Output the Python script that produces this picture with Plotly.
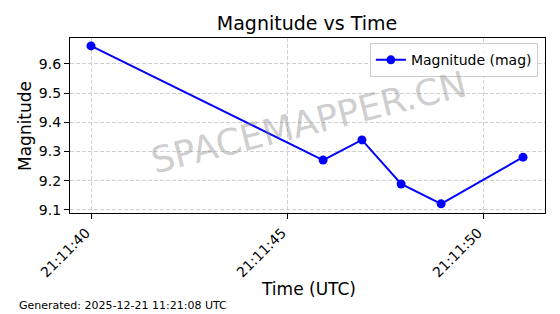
import plotly.graph_objects as go

times = ["2025-12-21 21:11:40.000", "2025-12-21 21:11:45.920", "2025-12-21 21:11:46.910",
         "2025-12-21 21:11:47.910", "2025-12-21 21:11:48.930", "2025-12-21 21:11:51.020"]
magnitudes = [9.662, 9.271, 9.340, 9.189, 9.121, 9.281]
x_ticks = ["2025-12-21 21:11:40", "2025-12-21 21:11:45", "2025-12-21 21:11:50"]
x_tick_labels = ["21:11:40", "21:11:45", "21:11:50"]
y_ticks = [9.1, 9.2, 9.3, 9.4, 9.5, 9.6]

FONT = "DejaVu Sans"
W, H = 560, 314
L, R, T, B = 70, 15, 38, 101
PW, PH = W - L - R, H - T - B


def px(xp):
    return (xp - L) / PW


def py(yp):
    return (H - B - yp) / PH


fig = go.Figure()
fig.add_trace(go.Scatter(
    x=times, y=magnitudes, mode="lines+markers", name="Magnitude (mag)",
    line=dict(color="#0000ff", width=2), marker=dict(color="#0000ff", size=9),
))

axis_common = dict(
    showline=True, linecolor="black", linewidth=1.2, mirror=True,
    ticks="outside", ticklen=5, tickcolor="black", tickwidth=1,
    showgrid=True, gridcolor="#d0d0d0", griddash="4px,2px", gridwidth=0.8,
    zeroline=False, tickfont=dict(family=FONT, size=14, color="black"),
)

fig.update_xaxes(
    type="date", range=["2025-12-21 21:11:39.464", "2025-12-21 21:11:51.580"],
    tickvals=x_ticks, ticktext=x_tick_labels, tickangle=-45, ticklabelshift=-5,
    **axis_common,
)
fig.update_yaxes(
    range=[9.0897, 9.689], tickvals=y_ticks, ticktext=[f"{v:.1f}" for v in y_ticks],
    **axis_common,
)

fig.update_layout(
    width=W, height=H, margin=dict(l=L, r=R, t=T, b=B),
    paper_bgcolor="white", plot_bgcolor="white",
    font=dict(family=FONT, color="black"),
    title=dict(text="Magnitude vs Time", x=307 / W, xanchor="center", xref="container",
               y=1 - 23 / H, yanchor="middle", yref="container",
               font=dict(family=FONT, size=19, color="black")),
    showlegend=True,
    legend=dict(x=0.985, xanchor="right", y=0.97, yanchor="top",
                bgcolor="rgba(255,255,255,0.8)", bordercolor="#cccccc", borderwidth=1,
                font=dict(family=FONT, size=14, color="black")),
    annotations=[
        dict(text="SPACEMAPPER.CN", x=px(308), y=py(122), xref="paper", yref="paper",
             showarrow=False, textangle=-14,
             font=dict(family=FONT, size=36, color="rgba(128,128,128,0.4)")),
        dict(text="Time (UTC)", x=px(308), y=py(289), xref="paper", yref="paper",
             yanchor="middle", xanchor="center", showarrow=False,
             font=dict(family=FONT, size=17, color="black")),
        dict(text="Magnitude", x=px(25), y=py(126), xref="paper", yref="paper",
             showarrow=False, textangle=-90, xanchor="center", yanchor="middle",
             font=dict(family=FONT, size=17, color="black")),
        dict(text="Generated: 2025-12-21 11:21:08 UTC", x=px(17), y=py(305),
             xref="paper", yref="paper", xanchor="left", yanchor="middle", showarrow=False,
             font=dict(family=FONT, size=11, color="black")),
    ],
)

fig.write_html("out.html")
